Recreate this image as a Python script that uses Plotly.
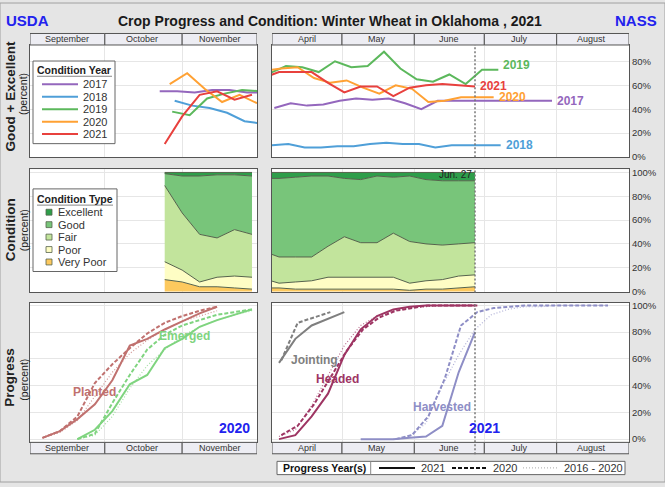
import plotly.graph_objects as go
import datetime as _dt

W, H = 665, 487
FONT = "Liberation Sans, Arial, sans-serif"
FALL_YEAR = 2020
SPRING_YEAR = 2021

# ---------------- Good + Excellent (percent) ----------------
ge_years = ["2017", "2018", "2019", "2020", "2021"]
ge_colors = ["#9467bd", "#4f9fd8", "#5cb85c", "#ffa133", "#e8413e"]

ge_fall_2017_dates = ["10-23", "10-30", "11-06", "11-13", "11-20", "11-27", "12-04"]
ge_fall_2017 = [55, 55, 54, 56, 56, 54, 54]
ge_fall_2018_dates = ["10-29", "11-05", "11-12", "11-19", "11-26", "12-03"]
ge_fall_2018 = [47, 43, 41, 37, 30, 28]
ge_fall_2019_dates = ["10-28", "11-04", "11-11", "11-18", "11-25", "12-02"]
ge_fall_2019 = [38, 35, 49, 53, 56, 55]
ge_fall_2020_dates = ["10-27", "11-03", "11-10", "11-17", "11-24", "12-01"]
ge_fall_2020 = [61, 70, 57, 46, 52, 45]
ge_fall_2021_dates = ["10-25", "11-01", "11-08", "11-15", "11-22", "11-29"]
ge_fall_2021 = [11, 34, 52, 55, 48, 52]

ge_spr_2017_dates = ["04-02", "04-09", "04-16", "04-23", "04-30", "05-07", "05-14", "05-21", "05-28",
                     "06-04", "06-11", "06-18", "06-25", "07-02", "07-09", "07-16", "07-23", "07-30"]
ge_spr_2017 = [41, 45, 43, 44, 47, 49, 48, 49, 45, 40, 47, 47, 47, 47, 47, 47, 47, 47]
ge_spr_2018_dates = ["04-01", "04-08", "04-15", "04-22", "04-29", "05-06", "05-13", "05-20", "05-27",
                     "06-03", "06-10", "06-17", "06-24", "07-01", "07-08"]
ge_spr_2018 = [10, 11, 8, 8, 9, 9, 11, 12, 11, 11, 8, 10, 10, 10, 10]
ge_spr_2019_dates = ["03-31", "04-07", "04-14", "04-21", "04-28", "05-05", "05-12", "05-19", "05-26",
                     "06-02", "06-09", "06-16", "06-23", "06-30", "07-07"]
ge_spr_2019 = [70, 76, 75, 71, 80, 75, 76, 88, 74, 65, 63, 69, 61, 73, 73]
ge_spr_2020_dates = ["03-29", "04-05", "04-12", "04-19", "04-26", "05-03", "05-10", "05-17", "05-24",
                     "05-31", "06-07", "06-14", "06-21", "06-28", "07-05"]
ge_spr_2020 = [72, 74, 75, 66, 62, 64, 58, 53, 60, 57, 46, 47, 50, 50, 50]
ge_spr_2021_dates = ["03-28", "04-04", "04-11", "04-18", "04-25", "05-02", "05-09", "05-16", "05-23",
                     "05-30", "06-06", "06-13", "06-20", "06-27"]
ge_spr_2021 = [66, 71, 71, 71, 62, 54, 59, 59, 51, 58, 60, 61, 60, 59]

# ---------------- Condition (percent), current crop ----------------
cond_types = ["Very Poor", "Poor", "Fair", "Good", "Excellent"]
cond_colors = ["#fdc95e", "#fefdc4", "#c2e49c", "#78c57a", "#2e9e4a"]

cond_fall_dates = ["10-25", "11-01", "11-08", "11-15", "11-22", "11-29"]
cond_fall_vp = [10, 8, 4, 4, 3, 2]
cond_fall_p = [15, 10, 4, 8, 10, 10]
cond_fall_f = [64, 48, 40, 33, 39, 36]
cond_fall_g = [10, 31, 49, 53, 46, 49]
cond_fall_e = [1, 3, 3, 2, 2, 3]

cond_spr_dates = ["03-28", "04-04", "04-11", "04-18", "04-25", "05-02", "05-09", "05-16", "05-23",
                  "05-30", "06-06", "06-13", "06-20", "06-27"]
cond_spr_vp = [3, 3, 2, 2, 2, 2, 2, 2, 2, 1, 2, 2, 3, 4]
cond_spr_p = [8, 4, 6, 7, 10, 10, 10, 10, 10, 6, 7, 8, 10, 10]
cond_spr_f = [23, 22, 21, 20, 26, 34, 29, 29, 37, 35, 31, 29, 27, 27]
cond_spr_g = [61, 66, 67, 68, 59, 49, 53, 56, 47, 55, 54, 54, 53, 52]
cond_spr_e = [5, 5, 4, 3, 3, 5, 6, 3, 4, 3, 6, 7, 7, 7]

# ---------------- Progress (percent) ----------------
planted_dates = ["09-06", "09-13", "09-20", "09-27", "10-04", "10-11", "10-18", "10-25", "11-01", "11-08", "11-15"]
planted_cur = [1, 6, 15, 26, 44, 70, 75, 82, 88, 94, 99]
planted_prev = [1, 6, 17, 42, 56, 68, 79, 87, 92, 96, 99]
planted_avg = [1, 5, 14, 32, 50, 64, 74, 82, 88, 92, 96]

emerged_dates = ["09-20", "09-27", "10-04", "10-11", "10-18", "10-25", "11-01", "11-08", "11-15", "11-22", "11-29"]
emerged_cur = [0, 7, 21, 41, 48, 68, 75, 84, 89, 93, 97]
emerged_prev = [0, 4, 27, 48, 67, 78, 85, 89, 93, 95, 97]
emerged_avg = [0, 3, 17, 38, 55, 67, 77, 84, 89, 93, 96]

jointing_dates = ["04-04", "04-11", "04-18", "04-25", "05-02"]
jointing_cur = [57, 75, 85, 90, 95]
jointing_prev_dates = ["04-05", "04-12", "04-19", "04-26"]
jointing_prev = [59, 87, 91, 95]

headed_dates = ["04-04", "04-11", "04-18", "04-25", "05-02", "05-09", "05-16", "05-23", "05-30",
                "06-06", "06-13", "06-20", "06-27"]
headed_cur = [0, 3, 17, 34, 63, 82, 92, 97, 99, 100, 100, 100, 100]
headed_prev_dates = ["04-05", "04-12", "04-19", "04-26", "05-03", "05-10", "05-17", "05-24", "05-31",
                     "06-07", "06-14", "06-21", "06-28"]
headed_prev = [3, 10, 26, 46, 66, 82, 91, 96, 98, 100, 100, 100, 100]
headed_avg = [2, 7, 25, 47, 70, 85, 92, 96, 98, 99, 100, 100, 100]

harv_dates = ["05-09", "05-16", "05-23", "05-30", "06-06", "06-13", "06-20", "06-27"]
harv_cur = [0, 0, 0, 1, 2, 10, 50, 80]
harv_prev_dates = ["05-24", "05-31", "06-07", "06-14", "06-21", "06-28", "07-05", "07-12", "07-19",
                   "07-26", "08-02", "08-09", "08-16", "08-23"]
harv_prev = [0, 3, 17, 45, 85, 95, 98, 99, 100, 100, 100, 100, 100, 100]
harv_avg_dates = ["05-23", "05-30", "06-06", "06-13", "06-20", "06-27", "07-04", "07-11", "07-18",
                  "07-25", "08-01", "08-08", "08-15", "08-22"]
harv_avg = [0, 2, 12, 40, 63, 82, 93, 97, 99, 99, 100, 100, 100, 100]

prog_colors = {"Planted": "#c0716f", "Emerged": "#7fd47f", "Jointing": "#7f7f7f",
               "Headed": "#9e3563", "Harvested": "#8e8ec6"}

fall_months = ["September", "October", "November"]
fall_month_starts = ["09-01", "10-01", "11-01", "12-01"]
spr_months = ["April", "May", "June", "July", "August"]
spr_month_starts = ["04-01", "05-01", "06-01", "07-01", "08-01", "09-01"]
current_week = "06-27"


def fd(md):
    return f"{FALL_YEAR}-{md}"


def sd(md):
    return f"{SPRING_YEAR}-{md}"


def px(x):
    return x / W


def py(y):
    return 1 - y / H


fig = go.Figure()

# ---- row 1: good + excellent ----
fall_ge = [(ge_fall_2017_dates, ge_fall_2017), (ge_fall_2018_dates, ge_fall_2018),
           (ge_fall_2019_dates, ge_fall_2019), (ge_fall_2020_dates, ge_fall_2020),
           (ge_fall_2021_dates, ge_fall_2021)]
spr_ge = [(ge_spr_2017_dates, ge_spr_2017), (ge_spr_2018_dates, ge_spr_2018),
          (ge_spr_2019_dates, ge_spr_2019), (ge_spr_2020_dates, ge_spr_2020),
          (ge_spr_2021_dates, ge_spr_2021)]
for yr, col, (dts, vals) in zip(ge_years, ge_colors, fall_ge):
    fig.add_trace(go.Scatter(x=[fd(d) for d in dts], y=vals, mode="lines", name=yr,
                             line=dict(color=col, width=2), xaxis="x", yaxis="y", showlegend=False))
for yr, col, (dts, vals) in zip(ge_years, ge_colors, spr_ge):
    fig.add_trace(go.Scatter(x=[sd(d) for d in dts], y=vals, mode="lines", name=yr,
                             line=dict(color=col, width=2), xaxis="x2", yaxis="y2", showlegend=False))

# ---- row 2: condition stacked areas ----
fall_cond = [cond_fall_vp, cond_fall_p, cond_fall_f, cond_fall_g, cond_fall_e]
spr_cond = [cond_spr_vp, cond_spr_p, cond_spr_f, cond_spr_g, cond_spr_e]
for name, col, vals in zip(cond_types, cond_colors, fall_cond):
    fig.add_trace(go.Scatter(x=[fd(d) for d in cond_fall_dates], y=vals, mode="lines", name=name,
                             stackgroup="fall", fillcolor=col, line=dict(color="#56634c", width=1),
                             xaxis="x3", yaxis="y3", showlegend=False))
for name, col, vals in zip(cond_types, cond_colors, spr_cond):
    fig.add_trace(go.Scatter(x=[sd(d) for d in cond_spr_dates], y=vals, mode="lines", name=name,
                             stackgroup="spring", fillcolor=col, line=dict(color="#56634c", width=1),
                             xaxis="x4", yaxis="y4", showlegend=False))

# ---- row 3: progress ----
DASH = "4px,2px"
DOT = "1px,2px"


def prog(dts, vals, conv, col, style, ax, ay):
    if style == "solid":
        line = dict(color=col, width=2)
        op = 1.0
    elif style == "dash":
        line = dict(color=col, width=2, dash=DASH)
        op = 1.0
    else:
        line = dict(color=col, width=1.2, dash=DOT)
        op = 0.7
    fig.add_trace(go.Scatter(x=[conv(d) for d in dts], y=vals, mode="lines", line=line, opacity=op,
                             xaxis=ax, yaxis=ay, showlegend=False))


prog(planted_dates, planted_avg, fd, prog_colors["Planted"], "dot", "x5", "y5")
prog(planted_dates, planted_prev, fd, prog_colors["Planted"], "dash", "x5", "y5")
prog(planted_dates, planted_cur, fd, prog_colors["Planted"], "solid", "x5", "y5")
prog(emerged_dates, emerged_avg, fd, prog_colors["Emerged"], "dot", "x5", "y5")
prog(emerged_dates, emerged_prev, fd, prog_colors["Emerged"], "dash", "x5", "y5")
prog(emerged_dates, emerged_cur, fd, prog_colors["Emerged"], "solid", "x5", "y5")

prog(jointing_prev_dates, jointing_prev, sd, prog_colors["Jointing"], "dash", "x6", "y6")
prog(jointing_dates, jointing_cur, sd, prog_colors["Jointing"], "solid", "x6", "y6")
prog(headed_dates, headed_avg, sd, prog_colors["Headed"], "dot", "x6", "y6")
prog(headed_prev_dates, headed_prev, sd, prog_colors["Headed"], "dash", "x6", "y6")
prog(headed_dates, headed_cur, sd, prog_colors["Headed"], "solid", "x6", "y6")
prog(harv_avg_dates, harv_avg, sd, prog_colors["Harvested"], "dot", "x6", "y6")
prog(harv_prev_dates, harv_prev, sd, prog_colors["Harvested"], "dash", "x6", "y6")
prog(harv_dates, harv_cur, sd, prog_colors["Harvested"], "solid", "x6", "y6")

# ---------------- axes ----------------
XL = [px(30), px(257)]
XR = [px(272), px(629)]
R1 = [py(156.7), py(42.7)]
R2 = [py(294.3), py(169)]
R3 = [py(446.7), py(305)]
GRID = "#e6e6e6"
BORDER = "#555555"


def xax(domain, anchor, fall):
    starts = fall_month_starts if fall else spr_month_starts
    conv = fd if fall else sd
    return dict(domain=domain, anchor=anchor, type="date",
                range=[conv(starts[0]), conv(starts[-1])],
                tickmode="array", tickvals=[conv(s) for s in starts[1:-1]],
                showticklabels=False, ticks="", showgrid=True, gridcolor=GRID, gridwidth=1.3,
                showline=True, mirror=True, linecolor=BORDER, linewidth=1, zeroline=False)


def yax(domain, anchor, rng, tickvals, right):
    d = dict(domain=domain, anchor=anchor, range=rng, tickmode="array", tickvals=tickvals,
             ticktext=[f"{v}%" for v in tickvals], ticks="", showgrid=True, gridcolor=GRID,
             gridwidth=1.3, showline=True, mirror=True, linecolor=BORDER, linewidth=1,
             zeroline=False, fixedrange=True)
    if right:
        d.update(side="right", showticklabels=True, tickfont=dict(size=9.5, color="#333", family=FONT))
    else:
        d.update(showticklabels=False)
    return d


r1_ticks = [0, 20, 40, 60, 80]
r_ticks = [0, 20, 40, 60, 80, 100]
layout = dict(
    xaxis=xax(XL, "y", True), yaxis=yax(R1, "x", [0, 93.6], r1_ticks, False),
    xaxis2=xax(XR, "y2", False), yaxis2=yax(R1, "x2", [0, 93.6], r1_ticks, True),
    xaxis3=xax(XL, "y3", True), yaxis3=yax(R2, "x3", [-0.8, 102.7], r_ticks, False),
    xaxis4=xax(XR, "y4", False), yaxis4=yax(R2, "x4", [-0.8, 102.7], r_ticks, True),
    xaxis5=xax(XL, "y5", True), yaxis5=yax(R3, "x5", [-2.4, 101.8], r_ticks, False),
    xaxis6=xax(XR, "y6", False), yaxis6=yax(R3, "x6", [-2.4, 101.8], r_ticks, True),
)

shapes = []
annotations = []


def text(x, y, s, size, color="#222", bold=False, xanchor="center", xref="paper", yref="paper",
         angle=0, xshift=0, yshift=0, yanchor="middle"):
    annotations.append(dict(x=x, y=y, xref=xref, yref=yref, text=f"<b>{s}</b>" if bold else s,
                            showarrow=False, xanchor=xanchor, yanchor=yanchor, textangle=angle,
                            xshift=xshift, yshift=yshift,
                            font=dict(size=size, color=color, family=FONT)))


def pline(x0, y0, x1, y1, color, width=1, dash=None):
    ln = dict(color=color, width=width)
    if dash:
        ln["dash"] = dash
    shapes.append(dict(type="line", xref="paper", yref="paper", x0=px(x0), x1=px(x1),
                       y0=py(y0), y1=py(y1), line=ln))


def prect(x0, y0, x1, y1, fill, color, width=1):
    shapes.append(dict(type="rect", xref="paper", yref="paper", x0=px(x0), x1=px(x1),
                       y0=py(y1), y1=py(y0), fillcolor=fill, line=dict(color=color, width=width)))


# month strips
STRIP_FILL = "#ededf3"
TOP_STRIP = [py(42.7), py(31)]
BOT_STRIP = [py(458.3), py(446.7)]
for xref, names, starts, conv, strip in [
    ("x", fall_months, fall_month_starts, fd, TOP_STRIP),
    ("x2", spr_months, spr_month_starts, sd, TOP_STRIP),
    ("x5", fall_months, fall_month_starts, fd, BOT_STRIP),
    ("x6", spr_months, spr_month_starts, sd, BOT_STRIP),
]:
    for i, nm in enumerate(names):
        shapes.append(dict(type="rect", xref=xref, yref="paper", x0=conv(starts[i]), x1=conv(starts[i + 1]),
                           y0=strip[0], y1=strip[1], fillcolor=STRIP_FILL,
                           line=dict(color=BORDER, width=1), layer="above"))
        a = _dt.date.fromisoformat(conv(starts[i]))
        b = _dt.date.fromisoformat(conv(starts[i + 1]))
        mid = a + (b - a) / 2
        annotations.append(dict(x=mid.isoformat(), y=(strip[0] + strip[1]) / 2, xref=xref, yref="paper",
                                text=nm, showarrow=False, xanchor="center", yanchor="middle",
                                font=dict(size=9, color="#333", family=FONT)))

# current-week dotted line
for xr, yr, y0 in [("x2", "y2 domain", 0), ("x4", "y4 domain", 0), ("x6", "y6 domain", -0.085)]:
    shapes.append(dict(type="line", xref=xr, yref=yr, x0=sd(current_week), x1=sd(current_week),
                       y0=y0, y1=1, line=dict(color="#777", width=1.5, dash="2px,2px")))
text(sd(current_week), 98.5, "Jun. 27", 10, "#222", False, "right", "x4", "y4", xshift=-1)

# series labels row 1 (right panel)
for yr, col, (dts, vals) in zip(ge_years, ge_colors, spr_ge):
    ys = 5 if yr == "2019" else 0
    text(sd(dts[-1]), vals[-1], yr, 12, col, True, "left", "x2", "y2", xshift=3, yshift=ys)

# progress labels
text(fd("09-27"), 35, "Planted", 12, prog_colors["Planted"], True, "center", "x5", "y5")
text(fd("11-02"), 77, "Emerged", 12, prog_colors["Emerged"], True, "center", "x5", "y5")
text(fd("11-22"), 8.5, str(FALL_YEAR), 14, "#2222ee", True, "center", "x5", "y5")
text(sd("04-19"), 59, "Jointing", 12, prog_colors["Jointing"], True, "center", "x6", "y6")
text(sd("04-29"), 45, "Headed", 12, prog_colors["Headed"], True, "center", "x6", "y6")
text(sd("06-13"), 24, "Harvested", 12, prog_colors["Harvested"], True, "center", "x6", "y6")
text(sd("07-01"), 8.5, str(SPRING_YEAR), 14, "#2222ee", True, "center", "x6", "y6")

# titles
text(px(330), py(18), "Crop Progress and Condition: Winter Wheat in Oklahoma , 2021", 14, "#1a1a1a", True)
text(px(4), py(18), "USDA", 15, "#2222ee", True, "left")
text(px(659), py(18), "NASS", 15, "#2222ee", True, "right")

# y titles
text(px(10), py(95), "Good + Excellent", 13.5, "#222", True, angle=-90)
text(px(23.5), py(93), "(percent)", 10.5, "#222", False, angle=-90)
text(px(10), py(231), "Condition", 13.5, "#222", True, angle=-90)
text(px(24), py(231), "(percent)", 10.5, "#222", False, angle=-90)
text(px(10), py(381), "Progress", 13.5, "#222", True, angle=-90)
text(px(24), py(383), "(percent)", 10.5, "#222", False, angle=-90)

# legend: Condition Year
prect(33, 59, 115, 143, "white", "#666", 1)
text(px(74), py(68.5), "Condition Year", 10.5, "#222", True)
pline(37, 74.5, 112, 74.5, "#888", 1)
for i, (yr, col) in enumerate(zip(ge_years, ge_colors)):
    yy = 82.7 + i * 12.65
    pline(42, yy, 78, yy, col, 2)
    text(px(81), py(yy), yr, 11, "#333", False, "left")

# legend: Condition Type
prect(33, 189, 117, 273, "white", "#666", 1)
text(px(75), py(199.5), "Condition Type", 10.5, "#222", True)
pline(37, 205.5, 113, 205.5, "#888", 1)
for i, (nm, col) in enumerate(zip(cond_types[::-1], cond_colors[::-1])):
    yy = 212.7 + i * 12.65
    prect(46, yy - 3, 52, yy + 3, col, "#56634c", 0.8)
    text(px(56), py(yy), nm, 11, "#333", False, "left")

# legend: Progress Year(s)
prect(277, 466, 625, 479.5, "white", "#666", 1)
text(px(281), py(472.7), "Progress Year(s)", 10.5, "#111", True, "left")
pline(370.7, 466, 370.7, 479.5, "#888", 1)
pline(379, 472.7, 415, 472.7, "#111", 2)
text(px(419), py(472.7), "2021", 11, "#333", False, "left")
pline(452, 472.7, 487, 472.7, "#111", 2, DASH)
text(px(491), py(472.7), "2020", 11, "#333", False, "left")
pline(523, 472.7, 558, 472.7, "#bbbbbb", 1.2, DOT)
text(px(562), py(472.7), "2016 - 2020", 11, "#333", False, "left")

# outer frame
shapes.append(dict(type="rect", xref="paper", yref="paper", x0=0, x1=1, y0=0, y1=1,
                   line=dict(color="#a0a0a0", width=1), fillcolor="rgba(0,0,0,0)"))

fig.update_layout(**layout)
fig.update_layout(width=W, height=H, margin=dict(l=0, r=0, t=0, b=0),
                  paper_bgcolor="#e5e5e5", plot_bgcolor="white", showlegend=False,
                  font=dict(family=FONT), shapes=shapes, annotations=annotations)
fig.write_html("out.html", config={"displayModeBar": False},
               post_script="document.body.style.margin='0';document.body.style.overflow='hidden';")
